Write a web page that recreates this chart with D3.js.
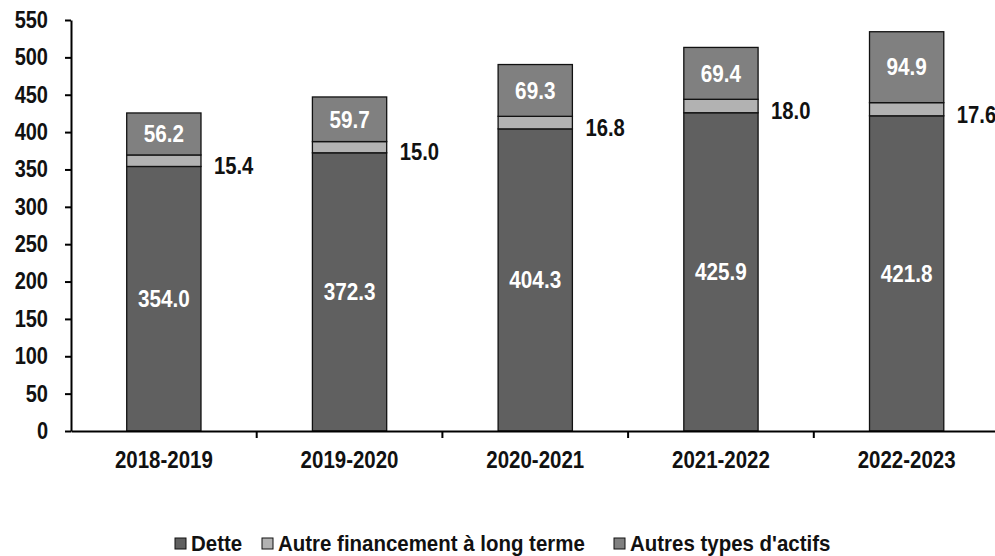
<!DOCTYPE html>
<html>
<head>
<meta charset="utf-8">
<style>
    body { margin: 0; background: #fff; }
    text { font-family: "Liberation Sans", Arial, sans-serif; font-weight: bold; }
</style>
</head>
<body>
<svg id="chart" width="995" height="556"></svg>
<script src="https://cdn.jsdelivr.net/npm/d3@7/dist/d3.min.js"></script>
<script>
    // values (milliards $)
    let years = ["2018-2019", "2019-2020", "2020-2021", "2021-2022", "2022-2023"]
    let dette = [354.0, 372.3, 404.3, 425.9, 421.8]
    let autreFin = [15.4, 15.0, 16.8, 18.0, 17.6]
    let autresActifs = [56.2, 59.7, 69.3, 69.4, 94.9]
    let seriesNames = ["Dette", "Autre financement à long terme", "Autres types d'actifs"]
    let yTicks = [0, 50, 100, 150, 200, 250, 300, 350, 400, 450, 500, 550]

    let colors = ["#606060", "#b2b2b2", "#808080"]

    let svg = d3.select("#chart")

    // the original uses a narrow bold face, so squeeze the text horizontally
    function squish(sel, sx) {
        sel.attr("transform", function () {
            let tx = +this.getAttribute("x") || 0
            let ty = +this.getAttribute("y") || 0
            return "translate(" + tx + "," + ty + ") scale(" + sx + ",1)"
        })
        .attr("x", 0)
        .attr("y", 0)
    }

    let rows = years.map((y, i) => ({
        year: y,
        dette: dette[i],
        autreFin: autreFin[i],
        autresActifs: autresActifs[i]
    }))

    let x = d3.scaleBand()
        .domain(years)
        .range([71, 999.5])

    let y = d3.scaleLinear()
        .domain([0, 550])
        .range([431, 20])

    let stack = d3.stack().keys(["dette", "autreFin", "autresActifs"])
    let layers = stack(rows)

    let barW = x.bandwidth() * 0.4

    // y axis
    let yAxis = svg.append("g")
        .attr("transform", "translate(71,0)")
        .call(d3.axisLeft(y).tickValues(yTicks).tickSize(6).tickSizeOuter(0))
    yAxis.select(".domain").attr("stroke", "#000").attr("stroke-width", 2)
    yAxis.selectAll(".tick line").attr("stroke", "#000").attr("stroke-width", 2)
    yAxis.selectAll("text")
        .attr("x", -23)
        .attr("font-size", 23)
        .attr("font-family", null)
        .attr("fill", "#111")
        .call(squish, 0.87)

    // bars
    layers.forEach((layer, k) => {
        svg.append("g")
            .selectAll("rect")
            .data(layer)
            .enter()
            .append("rect")
            .attr("x", d => x(d.data.year) + x.bandwidth() / 2 - barW / 2)
            .attr("y", d => y(d[1]))
            .attr("width", barW)
            .attr("height", d => y(d[0]) - y(d[1]))
            .attr("fill", colors[k])
            .attr("stroke", "#111")
            .attr("stroke-width", 1.3)
    })

    // x axis (drawn after bars so the line sits on top)
    let xAxis = svg.append("g")
        .attr("transform", "translate(0,431)")
        .call(d3.axisBottom(x).tickSize(0).tickSizeOuter(0))
    xAxis.select(".domain").attr("stroke", "#000").attr("stroke-width", 2)
    xAxis.selectAll("text")
        .attr("y", 21)
        .attr("dy", "0.71em")
        .attr("font-size", 23)
        .attr("font-family", null)
        .attr("fill", "#111")
        .call(squish, 0.89)
    // tick marks between categories
    xAxis.selectAll(".sep")
        .data(years.slice(1))
        .enter()
        .append("line")
        .attr("x1", d => x(d))
        .attr("x2", d => x(d))
        .attr("y1", 0)
        .attr("y2", 7)
        .attr("stroke", "#000")
        .attr("stroke-width", 2)

    // value labels
    let fmt = d3.format(".1f")
    let labels = svg.append("g").attr("font-size", 23)

    labels.selectAll(".lbl-dette")
        .data(layers[0])
        .enter()
        .append("text")
        .attr("x", d => x(d.data.year) + x.bandwidth() / 2)
        .attr("y", d => y((d[0] + d[1]) / 2))
        .attr("dy", "0.36em")
        .attr("text-anchor", "middle")
        .attr("fill", "#fff")
        .text(d => fmt(d.data.dette))
        .call(squish, 0.9)

    labels.selectAll(".lbl-actifs")
        .data(layers[2])
        .enter()
        .append("text")
        .attr("x", d => x(d.data.year) + x.bandwidth() / 2)
        .attr("y", d => y((d[0] + d[1]) / 2))
        .attr("dy", "0.36em")
        .attr("text-anchor", "middle")
        .attr("fill", "#fff")
        .text(d => fmt(d.data.autresActifs))
        .call(squish, 0.9)

    labels.selectAll(".lbl-fin")
        .data(layers[1])
        .enter()
        .append("text")
        .attr("x", d => x(d.data.year) + x.bandwidth() / 2 + barW / 2 + 13)
        .attr("y", d => y((d[0] + d[1]) / 2) + 5)
        .attr("dy", "0.36em")
        .attr("fill", "#111")
        .text(d => fmt(d.data.autreFin))
        .call(squish, 0.88)

    // legend
    let legendX = [175, 262, 614]
    let legend = svg.append("g")
        .selectAll("g")
        .data(seriesNames)
        .enter()
        .append("g")
        .attr("transform", (d, i) => "translate(" + legendX[i] + ",536)")
    legend.append("rect")
        .attr("y", 2)
        .attr("width", 11)
        .attr("height", 11)
        .attr("fill", (d, i) => colors[i])
        .attr("stroke", "#111")
        .attr("stroke-width", 1)
    legend.append("text")
        .attr("x", 16)
        .attr("y", 7)
        .attr("dy", "0.36em")
        .attr("font-size", 22)
        .attr("fill", "#111")
        .text(d => d)
        .call(squish, 0.93)
</script>
</body>
</html>
